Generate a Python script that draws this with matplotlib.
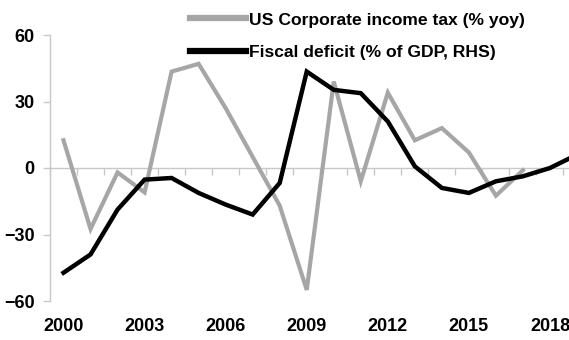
import numpy as np
import matplotlib
matplotlib.use("Agg")
import matplotlib.pyplot as plt
from matplotlib.lines import Line2D

plt.rcParams["font.family"] = ["Liberation Sans", "DejaVu Sans"]
plt.rcParams["font.weight"] = "bold"

years = list(range(2000, 2020))
tax_years = list(range(2000, 2018))

# corporate income tax receipts, % yoy
corp_tax = [12.5, -27.5, -2, -11, 43.5, 47, 27, 5, -17, -55,
            39, -6, 34, 12.5, 18, 7, -12.5, -1]
# fiscal deficit, % of GDP (positive = deficit)
deficit = [-2.3, -1.2, 1.5, 3.3, 3.4, 2.5, 1.8, 1.2, 3.1, 9.8,
           8.7, 8.5, 6.8, 4.1, 2.8, 2.5, 3.2, 3.5, 4.0, 4.8]

label_years = [2000, 2003, 2006, 2009, 2012, 2015, 2018]
lhs_ticks = [-60, -30, 0, 30, 60]

GREY = "#a6a6a6"
AXIS = "#c8c8c8"

fig = plt.figure(figsize=(5.69, 3.40), dpi=100)
ax = fig.add_axes([50 / 569, 1 - 301 / 340, (590.5 - 50) / 569, (301 - 35) / 340])
ax2 = ax.twinx()

ax.plot(tax_years, corp_tax, color=GREY, lw=3.0, solid_joinstyle="miter", zorder=3)
ax2.plot(years, deficit, color="black", lw=3.2, solid_joinstyle="miter", zorder=4)

ax.set_xlim(1999.5, 2019.5)
ax.set_ylim(-60, 60)
ax2.set_ylim(-4, 12)
ax2.set_yticks([])
ax2.set_zorder(ax.get_zorder() + 1)
ax2.patch.set_visible(False)

for a in (ax, ax2):
    for s in ("top", "right"):
        a.spines[s].set_visible(False)
ax2.spines["left"].set_visible(False)
ax2.spines["bottom"].set_visible(False)

ax.spines["left"].set_color(AXIS)
ax.spines["left"].set_linewidth(1.0)
ax.spines["left"].set_bounds(-60, 60)
ax.set_yticks(lhs_ticks)
ax.tick_params(axis="y", length=5, color=AXIS, width=1.0, labelsize=13, pad=6)

# zero line carries the category tick marks
ax.spines["bottom"].set_position(("data", 0))
ax.spines["bottom"].set_color(AXIS)
ax.spines["bottom"].set_linewidth(1.0)
ax.set_xticks(np.arange(1999.5, 2019.6, 1.0))
ax.set_xticklabels([])
ax.tick_params(axis="x", length=5, color=AXIS, width=1.0, direction="out")

# year labels sit under the plot area
sec = ax.secondary_xaxis(0.0)
sec.set_xticks(label_years)
sec.set_xticklabels([str(y) for y in label_years])
sec.tick_params(length=0, labelsize=13, pad=12)
sec.spines["bottom"].set_visible(False)

for lbl in ax.get_yticklabels() + sec.get_xticklabels():
    lbl.set_fontweight("bold")

handles = [Line2D([], [], color=GREY, lw=4.5),
           Line2D([], [], color="black", lw=4.5)]
labels = ["US Corporate income tax (% yoy)", "Fiscal deficit (% of GDP, RHS)"]
fig.legend(handles, labels, loc="upper left", bbox_to_anchor=(174 / 569, 1.01),
           frameon=False, handlelength=3.2, handletextpad=0.2, labelspacing=1.0,
           prop={"size": 12.6, "weight": "bold"})

fig.savefig("out.png", dpi=100)
